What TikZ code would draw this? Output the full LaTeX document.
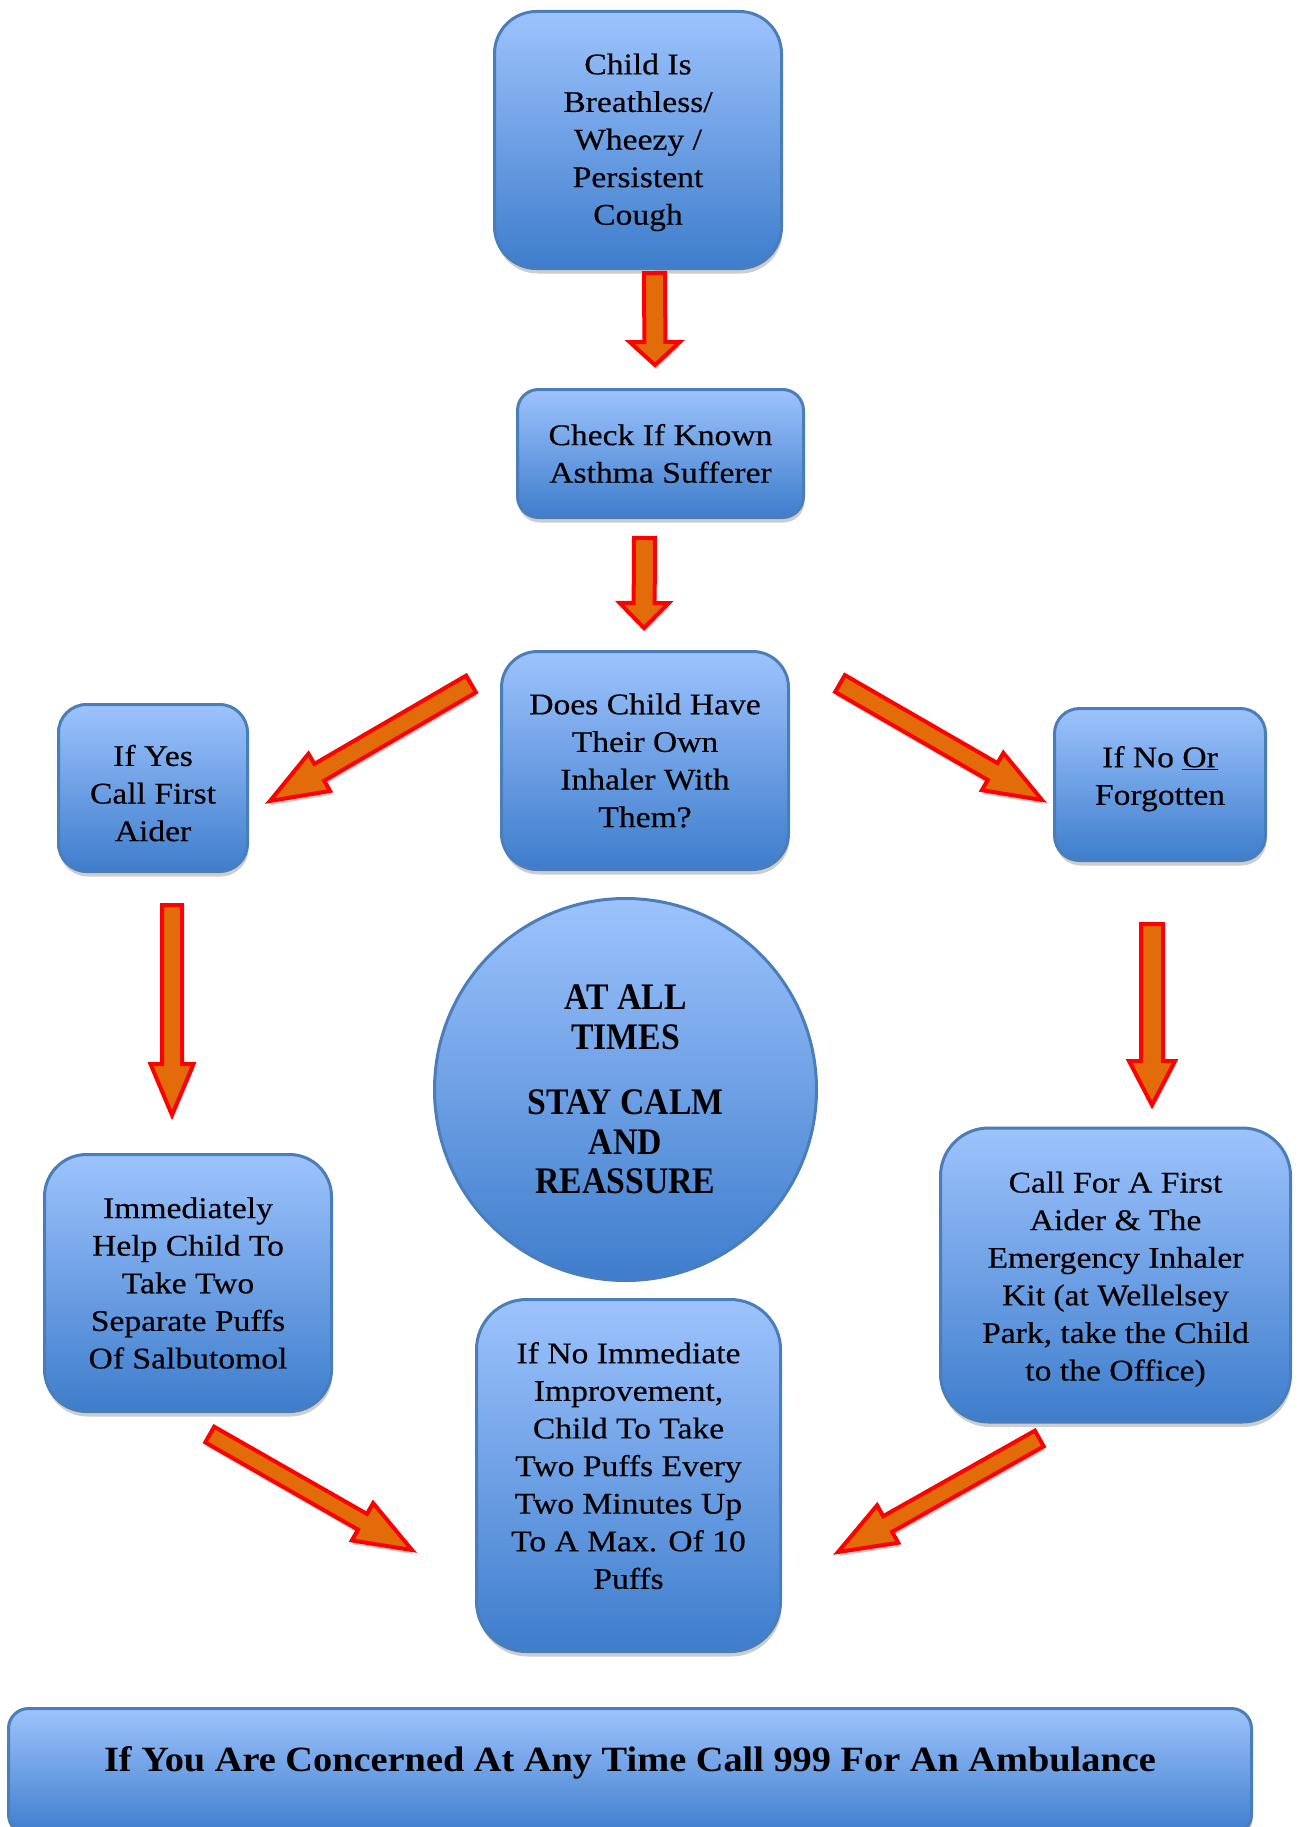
\documentclass[tikz,border=0pt]{standalone}
\usepackage{fontspec}
\setmainfont{Liberation Serif}[FakeStretch=1.12,FakeBold=0.4]
\newfontfamily\circfont{Liberation Serif}[FakeStretch=0.9]
\newfontfamily\barfont{Liberation Serif}[FakeStretch=1.08]
\usetikzlibrary{calc,shadows}
\definecolor{boxtop}{RGB}{157,195,253}
\definecolor{boxbot}{RGB}{62,125,204}
\definecolor{boxline}{RGB}{74,126,187}
\definecolor{arrfill}{RGB}{227,108,10}
\definecolor{arrline}{RGB}{255,0,0}
\definecolor{shadowgray}{RGB}{205,205,205}
\tikzset{
  flowbox/.style={draw=boxline, line width=3pt, top color=boxtop, bottom color=boxbot,
    align=center, inner sep=0pt, font=\fontsize{30}{37.6}\selectfont,
    drop shadow={shadow xshift=1pt, shadow yshift=-5pt, fill=shadowgray, opacity=1}},
  calmcircle/.style={draw=boxline, line width=3pt, top color=boxtop, bottom color=boxbot,
    circle, inner sep=0pt, align=center},
  arrowbody/.style={fill=arrfill, draw=arrline, line width=4pt, line join=miter},
  arrowshadow/.style={fill=shadowgray},
}
% lines of text raised by #1 inside their node
\newcommand\liftlines[2]{\raisebox{#1}[\height][\depth]{\begin{tabular}{@{}c@{}}#2\end{tabular}}}
% #1 name, #2 tail, #3 tip, #4 half shaft, #5 half head, #6 head length
\newcommand\blockarrow[6]{%
  \coordinate (#1n) at ($(#3)!#6!(#2)$);
  \begin{scope}[transform canvas={shift={(1pt,-4pt)}}]
    \fill[arrowshadow] ($(#2)!#4!90:(#3)$) -- ($(#1n)!#4!90:(#3)$) -- ($(#1n)!#5!90:(#3)$) -- (#3)
      -- ($(#1n)!#5!-90:(#3)$) -- ($(#1n)!#4!-90:(#3)$) -- ($(#2)!#4!-90:(#3)$) -- cycle;
  \end{scope}
  \filldraw[arrowbody] ($(#2)!#4!90:(#3)$) -- ($(#1n)!#4!90:(#3)$) -- ($(#1n)!#5!90:(#3)$) -- (#3)
      -- ($(#1n)!#5!-90:(#3)$) -- ($(#1n)!#4!-90:(#3)$) -- ($(#2)!#4!-90:(#3)$) -- cycle;
}
\begin{document}
\begin{tikzpicture}[x=1pt,y=-1pt]
\useasboundingbox (0,0) rectangle (1301,1827);

% boxes
\node[flowbox, rounded corners=42pt, minimum width=287pt, minimum height=257pt] (breath) at (638,140)
  {\liftlines{-2pt}{Child Is\\Breathless/\\Wheezy /\\Persistent\\Cough}};
\node[flowbox, rounded corners=21pt, minimum width=286pt, minimum height=128pt] (check) at (660.5,453.5)
  {Check If Known\\Asthma Sufferer};
\node[flowbox, rounded corners=36pt, minimum width=287pt, minimum height=218pt] (inhaler) at (645,760.5)
  {Does Child Have\\Their Own\\Inhaler With\\Them?};
\node[flowbox, rounded corners=28pt, minimum width=189pt, minimum height=167pt] (yes) at (153,788)
  {\liftlines{-8pt}{If Yes\\Call First\\Aider}};
\node[flowbox, rounded corners=25pt, minimum width=211pt, minimum height=152pt] (no) at (1160,784.5)
  {\liftlines{6pt}{If No \underline{Or}\\Forgotten}};
\node[flowbox, rounded corners=42pt, minimum width=287pt, minimum height=257pt] (puffs) at (188,1283)
  {Immediately\\Help Child To\\Take Two\\Separate Puffs\\Of Salbutomol};
\node[flowbox, rounded corners=48pt, minimum width=350pt, minimum height=294pt] (kit) at (1115.5,1275)
  {\liftlines{-4pt}{Call For A First\\Aider \& The\\Emergency Inhaler\\Kit (at Wellelsey\\Park, take the Child\\to the Office)}};
\node[flowbox, rounded corners=50pt, minimum width=304pt, minimum height=352pt] (more) at (628.5,1475.5)
  {\liftlines{7pt}{If No Immediate\\Improvement,\\Child To Take\\Two Puffs Every\\Two Minutes Up\\To A Max. Of 10\\Puffs}};
\node[flowbox, rounded corners=20pt, minimum width=1243pt, minimum height=126pt,
  font=\barfont\bfseries\fontsize{35.5}{40}\selectfont, text height=20pt, text depth=20pt] (bar) at (630,1771.5)
  {If You Are Concerned At Any Time Call 999 For An Ambulance};

% circle
\node[calmcircle, minimum size=382pt, font=\circfont\bfseries\fontsize{37.5}{39.5}\selectfont] (calm) at (625.5,1089.5)
  {AT ALL\\TIMES\\[26pt]STAY CALM\\AND\\REASSURE};

% arrow ends
\coordinate (a1t) at (654.5,273);  \coordinate (a1h) at (655,365);
\coordinate (a2t) at (644.5,538);  \coordinate (a2h) at (644,628);
\coordinate (a3t) at (471,684);    \coordinate (a3h) at (270,801);
\coordinate (a4t) at (840,683.5);  \coordinate (a4h) at (1042,800);
\coordinate (a5t) at (172,905);    \coordinate (a5h) at (172,1115);
\coordinate (a6t) at (1152,924);   \coordinate (a6h) at (1152,1105);
\coordinate (a7t) at (209.7,1434.5); \coordinate (a7h) at (412,1550);
\coordinate (a8t) at (1039.3,1438.5); \coordinate (a8h) at (838,1552);

\blockarrow{a1}{a1t}{a1h}{10.5pt}{25pt}{23pt}
\blockarrow{a2}{a2t}{a2h}{10.5pt}{24.5pt}{25pt}
\blockarrow{a3}{a3t}{a3h}{9.7pt}{21.5pt}{57pt}
\blockarrow{a4}{a4t}{a4h}{9.7pt}{21.5pt}{57pt}
\blockarrow{a5}{a5t}{a5h}{10pt}{21.5pt}{51pt}
\blockarrow{a6}{a6t}{a6h}{11pt}{23pt}{44pt}
\blockarrow{a7}{a7t}{a7h}{9pt}{21.5pt}{57pt}
\blockarrow{a8}{a8t}{a8h}{9pt}{21.5pt}{57pt}
\end{tikzpicture}
\end{document}
